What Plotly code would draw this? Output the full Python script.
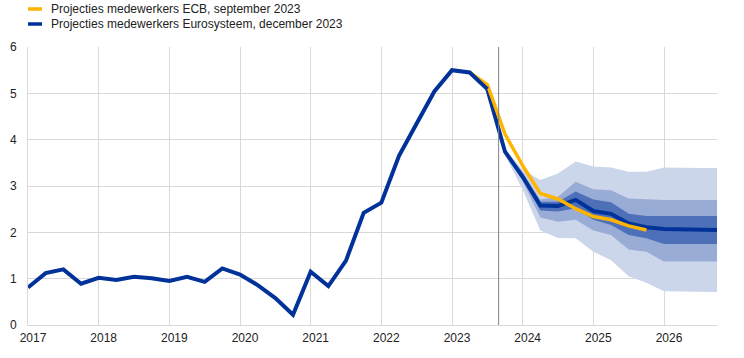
import plotly.graph_objects as go

# ---------------- data ----------------
start_year = 2017.0
quarter_step = 0.25

hist_blue = [0.81, 1.12, 1.20, 0.89,
             1.02, 0.97, 1.04, 1.01,
             0.95, 1.04, 0.93, 1.22,
             1.09, 0.86, 0.58, 0.22,
             1.15, 0.84, 1.39, 2.42,
             2.64, 3.65, 4.35, 5.04,
             5.50, 5.45, 5.09]          # 2017Q1 .. 2023Q3

proj_blue = [5.09, 3.74,
             3.20, 2.58, 2.57, 2.70,
             2.46, 2.40, 2.19, 2.11,
             2.07, 2.06, 2.05, 2.05]     # 2023Q3 .. 2026Q4

proj_orange = [5.45, 5.19, 4.12,
               3.44, 2.84, 2.72, 2.51,
               2.34, 2.27, 2.14, 2.05]   # 2023Q2 .. 2025Q4

outer_hi = [5.09, 3.80, 3.35, 3.13, 3.27, 3.53, 3.42, 3.40, 3.31, 3.31, 3.40, 3.39, 3.39, 3.39]
outer_lo = [5.09, 3.66, 2.92, 2.04, 1.88, 1.87, 1.58, 1.40, 1.05, 0.91, 0.73, 0.72, 0.71, 0.71]
mid_hi = [5.09, 3.77, 3.30, 2.71, 2.77, 3.09, 2.93, 2.91, 2.73, 2.71, 2.70, 2.70, 2.70, 2.70]
mid_lo = [5.09, 3.70, 3.10, 2.32, 2.23, 2.27, 2.04, 1.94, 1.63, 1.58, 1.37, 1.37, 1.37, 1.37]
in_hi = [5.09, 3.76, 3.27, 2.66, 2.66, 2.88, 2.71, 2.65, 2.40, 2.35, 2.35, 2.35, 2.35, 2.35]
in_lo = [5.09, 3.72, 3.17, 2.47, 2.45, 2.52, 2.27, 2.16, 1.94, 1.87, 1.75, 1.75, 1.75, 1.75]

year_ticks = list(range(2017, 2027))
year_labels = [str(y) for y in year_ticks]
projection_start = 2023.66

legend_labels = ["Projecties medewerkers ECB, september 2023",
                 "Projecties medewerkers Eurosysteem, december 2023"]

# ---------------- x positions ----------------
x_hist = [start_year + i * quarter_step for i in range(len(hist_blue))]
x_proj = [2023.5 + i * quarter_step for i in range(len(proj_blue))]
x_orange = [2023.25 + i * quarter_step for i in range(len(proj_orange))]

BLUE = "#003299"
ORANGE = "#FFB400"
BAND_OUTER = "#CCD6EB"
BAND_MID = "#99ACD6"
BAND_IN = "#4D70B8"

fig = go.Figure()

for lo, hi, col in [(outer_lo, outer_hi, BAND_OUTER),
                    (mid_lo, mid_hi, BAND_MID),
                    (in_lo, in_hi, BAND_IN)]:
    fig.add_trace(go.Scatter(x=x_proj, y=lo, mode="lines", line=dict(width=0, color=col),
                             showlegend=False, hoverinfo="skip"))
    fig.add_trace(go.Scatter(x=x_proj, y=hi, mode="lines", line=dict(width=0, color=col),
                             fill="tonexty", fillcolor=col, showlegend=False, hoverinfo="skip"))

fig.add_trace(go.Scatter(x=x_proj, y=proj_blue, mode="lines",
                         line=dict(color=BLUE, width=4), showlegend=False))
fig.add_trace(go.Scatter(x=x_orange, y=proj_orange, mode="lines",
                         line=dict(color=ORANGE, width=3.5), showlegend=False))
fig.add_trace(go.Scatter(x=x_hist, y=hist_blue, mode="lines",
                         line=dict(color=BLUE, width=4), showlegend=False))

# projection start line
fig.add_shape(type="line", xref="x", yref="paper", x0=projection_start, x1=projection_start,
              y0=0, y1=1, line=dict(color="#808080", width=1))

M_L, M_R, M_T, M_B = 28, 27, 47, 33
plot_w = 744 - M_L - M_R
plot_h = 358 - M_T - M_B

# legend (drawn); rows at y = 9 and 24 px from the top
for i, (lab, col) in enumerate(zip(legend_labels, [ORANGE, BLUE])):
    ypx = 9 + 15 * i
    yp = (358 - M_B - ypx) / plot_h
    fig.add_shape(type="line", xref="paper", yref="paper",
                  x0=0, x1=14 / plot_w, y0=yp, y1=yp, line=dict(color=col, width=3.5))
    fig.add_annotation(xref="paper", yref="paper", x=21 / plot_w, y=yp, text=lab,
                       showarrow=False, xanchor="left", yanchor="middle",
                       font=dict(size=12, color="#222222"))

fig.update_layout(
    width=744, height=358,
    margin=dict(l=M_L, r=M_R, t=M_T, b=M_B),
    paper_bgcolor="white", plot_bgcolor="white",
    font=dict(family="Liberation Sans, Arial, sans-serif", size=12, color="#222222"),
    showlegend=False,
)
fig.update_xaxes(range=[2017, 2026.75], tickvals=year_ticks, ticktext=year_labels,
                 showgrid=True, gridcolor="#d9d9d9", gridwidth=1,
                 showline=True, linecolor="#d9d9d9", linewidth=1, automargin=False,
                 ticks="", zeroline=False, ticklabelshift=5, ticklabelstandoff=2)
fig.update_yaxes(range=[0, 6], dtick=1, showgrid=True, gridcolor="#d9d9d9", gridwidth=1,
                 showline=True, linecolor="#d9d9d9", linewidth=1, automargin=False,
                 ticks="", zeroline=False, ticklabelstandoff=8)

fig.write_html("out.html",
               config={"displayModeBar": False},
               post_script="document.body.style.margin='0';document.body.style.overflow='hidden';")
